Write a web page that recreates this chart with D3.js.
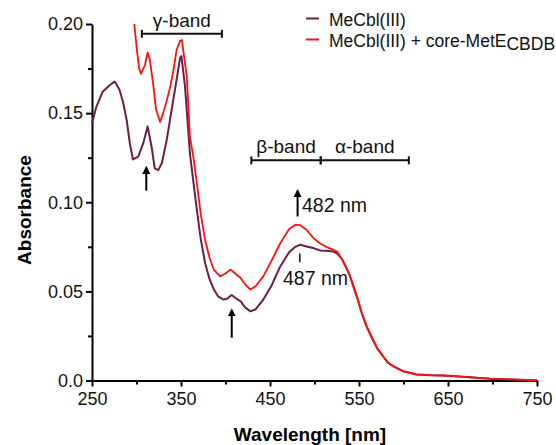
<!DOCTYPE html>
<html><head><meta charset="utf-8">
<script src="https://cdn.jsdelivr.net/npm/d3@7/dist/d3.min.js"></script>
<style>
html,body{margin:0;padding:0;background:#fff;}
svg{display:block;font-family:"Liberation Sans",Arial,sans-serif;}
</style></head>
<body><svg id="c" width="556" height="445"></svg>
<script>
// ---- data ----
const darkWl = [250,255,262,270,275.5,281,285,289,292.5,296,302,307.5,312.5,317,320.5,324.5,328.5,334,339.5,345,349,350.5,354.5,360,364,368,372,377,382,387,392,398,402,407,412,417,422,428,434,442.5,451.5,461.5,471.5,478.5,484,491,498.5,506,513,521,526,531,536,540,547.5,553,558.5,565.5,570.5,577,582.5,588.5,599.5,614.5,630,644.5,655,671,697,720,746,750];
const darkAbs = [0.1445,0.1537,0.162,0.1658,0.1677,0.163,0.156,0.146,0.133,0.124,0.1256,0.133,0.1425,0.131,0.119,0.118,0.122,0.135,0.152,0.1686,0.181,0.182,0.165,0.1275,0.111,0.095,0.080,0.066,0.057,0.051,0.047,0.0454,0.046,0.048,0.046,0.0444,0.041,0.0388,0.040,0.0454,0.053,0.064,0.072,0.075,0.0762,0.0752,0.0743,0.073,0.0728,0.0724,0.071,0.068,0.063,0.0584,0.0472,0.038,0.0304,0.023,0.018,0.0136,0.010,0.008,0.0052,0.0034,0.003,0.0028,0.0025,0.0019,0.001,0.0006,0.0002,0.0002];
const redWl = [297.5,300.5,303,305,309.5,312.5,315,319,322,326.5,330,334,338,341.5,345,349,351,356.5,360,364,368,372,377,382,387,394,400,405.5,411,417,422,428,434,442.5,451.5,461.5,471.5,478.5,483.5,491,498.5,506,513,521,526,531,536,540,547.5,553,558.5,565.5,570.5,577,582.5,588.5,599.5,614.5,630,644.5,655,671,697,720,746,750];
const redAbs = [0.200,0.1854,0.175,0.172,0.177,0.184,0.180,0.165,0.152,0.145,0.150,0.157,0.165,0.174,0.1854,0.1906,0.191,0.1705,0.137,0.125,0.110,0.094,0.079,0.069,0.062,0.0584,0.060,0.0622,0.060,0.0575,0.054,0.051,0.053,0.0584,0.067,0.077,0.085,0.0874,0.0872,0.0846,0.080,0.077,0.075,0.0734,0.072,0.0678,0.063,0.0584,0.0472,0.038,0.0304,0.023,0.018,0.0136,0.010,0.008,0.0052,0.0034,0.003,0.0028,0.0025,0.0019,0.001,0.0006,0.0002,0.0002];
const seriesNames = ["MeCbl(III)", "MeCbl(III) + core-MetE"];
const seriesSub = ["", "CBDB"];
const xTicks = [250,350,450,550,650,750];
const xMinor = [300,400,500,600,700];
const yTicks = [0,0.05,0.10,0.15,0.20];
const yTickLabels = ["0.0","0.05","0.10","0.15","0.20"];
const yMinor = [0.025,0.075,0.125,0.175];
const bands = [{name:"γ-band", from:306, to:396}, {name:"β-band", from:429, to:507}, {name:"α-band", from:507, to:606}];
const bandLevel = [0.1945, 0.1235, 0.1235];
const arrows = [{wl:311, a0:0.1065, a1:0.1195}, {wl:407, a0:0.0240, a1:0.0395}, {wl:481, a0:0.0920, a1:0.1065}];
const peakLabels = [{wl:483.5, a:0.0945, text:"482 nm"}, {wl:483.5, a:0.0535, text:"487 nm"}];

// ---- layout ----
const svg = d3.select("#c");
const x = d3.scaleLinear().domain([250,750]).range([92,537]);
const y = d3.scaleLinear().domain([0,0.20]).range([380.5,24]);
const DARK = "#6b1e47", RED = "#ff1010";

// axes
const gx = svg.append("g").attr("transform",`translate(0,${y(0)})`)
  .call(d3.axisBottom(x).tickValues(xTicks).tickSize(6).tickSizeOuter(0).tickPadding(6));
svg.append("g").attr("transform",`translate(0,${y(0)})`)
  .call(d3.axisBottom(x).tickValues(xMinor).tickSize(4).tickFormat("").tickSizeOuter(0))
  .select(".domain").remove();
const gy = svg.append("g").attr("transform",`translate(${x(250)},0)`)
  .call(d3.axisLeft(y).tickValues(yTicks).tickSize(6).tickSizeOuter(0).tickPadding(3)
    .tickFormat((d,i)=>yTickLabels[i]));
svg.append("g").attr("transform",`translate(${x(250)},0)`)
  .call(d3.axisLeft(y).tickValues(yMinor).tickSize(4).tickFormat("").tickSizeOuter(0))
  .select(".domain").remove();
svg.selectAll(".domain").attr("stroke","#000").attr("stroke-width",2);
svg.selectAll(".tick line").attr("stroke","#000").attr("stroke-width",2);
svg.selectAll(".tick text").attr("font-size",18).attr("fill","#111")
  .attr("font-family","'Liberation Sans',Arial,sans-serif");

// axis titles
svg.append("text").attr("x",310).attr("y",441).attr("text-anchor","middle")
  .attr("font-weight","bold").attr("font-size",19).text("Wavelength [nm]");
svg.append("text").attr("transform","translate(31,210) rotate(-90)").attr("text-anchor","middle")
  .attr("font-weight","bold").attr("font-size",19).text("Absorbance");

// lines
const line = d3.line().x(d=>x(d[0])).y(d=>y(d[1]));
const darkData = darkWl.map((w,i)=>[w,darkAbs[i]]);
const redData = redWl.map((w,i)=>[w,redAbs[i]]);
svg.append("path").datum(darkData).attr("d",line).attr("fill","none")
  .attr("stroke",DARK).attr("stroke-width",2).attr("stroke-linejoin","round");
svg.append("path").datum(redData).attr("d",line).attr("fill","none")
  .attr("stroke",RED).attr("stroke-width",1.8).attr("stroke-linejoin","round");

// legend
const legColors = [DARK, RED];
seriesNames.forEach((n,i)=>{
  const ly = 18.5 + i*21;
  svg.append("line").attr("x1",306).attr("x2",319).attr("y1",ly).attr("y2",ly)
    .attr("stroke",legColors[i]).attr("stroke-width",2);
  const t = svg.append("text").attr("x",329).attr("y",ly+7.5).attr("font-size",17.5).attr("fill","#111").text(n);
  if (seriesSub[i]) t.append("tspan").attr("dy",3).attr("font-size",17.5).text(seriesSub[i]);
});

// band brackets
bands.forEach((b,i)=>{
  const by = y(bandLevel[i]);
  const g = svg.append("g").attr("stroke","#111").attr("stroke-width",2);
  g.append("line").attr("x1",x(b.from)).attr("x2",x(b.to)).attr("y1",by).attr("y2",by);
  [b.from,b.to].forEach(w=>g.append("line").attr("x1",x(w)).attr("x2",x(w)).attr("y1",by-4).attr("y2",by+4));
  svg.append("text").attr("x",(x(b.from)+x(b.to))/2).attr("y",by-7).attr("text-anchor","middle")
    .attr("font-size",19).attr("fill","#111").text(b.name);
});

// arrows
const defs = svg.append("defs");
defs.append("marker").attr("id","ah").attr("viewBox","0 0 10 10").attr("refX",8).attr("refY",5)
  .attr("markerWidth",4).attr("markerHeight",4).attr("orient","auto")
  .append("path").attr("d","M0,0 L10,5 L0,10 z").attr("fill","#000");
arrows.forEach(a=>{
  svg.append("line").attr("x1",x(a.wl)).attr("x2",x(a.wl)).attr("y1",y(a.a0)).attr("y2",y(a.a1))
    .attr("stroke","#000").attr("stroke-width",2).attr("marker-end","url(#ah)");
});
// peak labels
svg.append("text").attr("x",302).attr("y",212).attr("font-size",19.5).attr("fill","#111").text(peakLabels[0].text);
svg.append("line").attr("x1",x(peakLabels[1].wl)).attr("x2",x(peakLabels[1].wl))
  .attr("y1",y(0.0713)).attr("y2",y(0.0664)).attr("stroke","#111").attr("stroke-width",1.5);
svg.append("text").attr("x",283).attr("y",285).attr("font-size",19.5).attr("fill","#111").text(peakLabels[1].text);
</script></body></html>
